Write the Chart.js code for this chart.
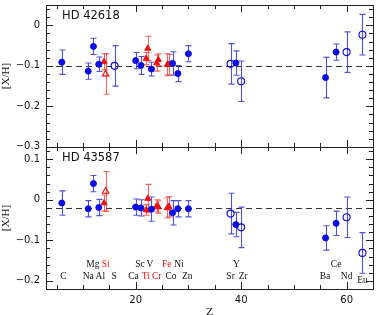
<!DOCTYPE html>
<html><head><meta charset="utf-8">
<script src="https://cdn.jsdelivr.net/npm/chart.js@4.4.0/dist/chart.umd.min.js"></script>
<style>
html,body{margin:0;padding:0;background:#fff;overflow:hidden;width:382px;height:315px}
#c1{position:absolute;left:0;top:0}
#c2{position:absolute;left:0;top:142px}
</style></head><body>
<canvas id="c1" width="382" height="152" style="width:382px;height:152px"></canvas>
<canvas id="c2" width="382" height="180" style="width:382px;height:180px"></canvas>
<script>
// ---------------- DATA ----------------
// HD 42618 (top panel)
const topBlueFilledZ   = [6, 11, 12, 13, 20, 21, 23, 27, 28, 30, 39, 56, 58];
const topBlueFilledVal = [-0.091, -0.113, -0.052, -0.096, -0.087, -0.099, -0.108, -0.094, -0.119, -0.070, -0.093, -0.129, -0.066];
const topBlueFilledErr = [0.030, 0.020, 0.020, 0.018, 0.020, 0.022, 0.017, 0.029, 0.020, 0.020, 0.030, 0.050, 0.020];
const topBlueOpenZ     = [16, 38, 40, 60, 63];
const topBlueOpenVal   = [-0.100, -0.095, -0.138, -0.066, -0.023];
const topBlueOpenErr   = [0.050, 0.050, 0.050, 0.050, 0.050];
const topRedFilledZ    = [14, 22, 22.3, 24, 24.3, 26, 26.3];
const topRedFilledVal  = [-0.090, -0.082, -0.057, -0.093, -0.085, -0.097, -0.097];
const topRedFilledErr  = [0.020, 0.015, 0.030, 0.020, 0.015, 0.027, 0.025];
const topRedOpenZ      = [14.3];
const topRedOpenVal    = [-0.120];
const topRedOpenErr    = [0.050];
const topRef = -0.10;

// HD 43587 (bottom panel)
const botBlueFilledZ   = [6, 11, 12, 13, 20, 21, 23, 27, 28, 30, 39, 56, 58];
const botBlueFilledVal = [-0.008, -0.022, 0.040, -0.019, -0.018, -0.020, -0.023, -0.032, -0.022, -0.022, -0.061, -0.094, -0.058];
const botBlueFilledErr = [0.030, 0.020, 0.020, 0.020, 0.020, 0.020, 0.030, 0.030, 0.020, 0.020, 0.030, 0.030, 0.030];
const botBlueOpenZ     = [38, 40, 60, 63];
const botBlueOpenVal   = [-0.034, -0.068, -0.043, -0.131];
const botBlueOpenErr   = [0.050, 0.050, 0.050, 0.050];
const botRedFilledZ    = [14, 22, 22.3, 24, 24.3, 26, 26.3];
const botRedFilledVal  = [-0.008, -0.025, 0.003, -0.015, -0.018, -0.020, -0.017];
const botRedFilledErr  = [0.020, 0.013, 0.035, 0.015, 0.015, 0.025, 0.025];
const botRedOpenZ      = [14.3];
const botRedOpenVal    = [0.021];
const botRedOpenErr    = [0.049];
const botRef = -0.02;

// element labels (bottom panel)
const elemNames = ['C','Na','Mg','Al','Si','S','Ca','Sc','Ti','V','Cr','Fe','Co','Ni','Zn','Sr','Y','Zr','Ba','Ce','Nd','Eu'];
const elemPos   = [6.3, 11.0, 11.9, 13.3, 14.3, 15.9, 19.6, 20.8, 21.9, 22.7, 24.0, 25.9, 26.7, 28.2, 29.8, 38.0, 39.1, 40.4, 55.9, 58.0, 60.0, 63.0];
const elemRowY  = [-0.188, -0.188, -0.160, -0.188, -0.160, -0.188, -0.188, -0.160, -0.188, -0.160, -0.188, -0.160, -0.188, -0.160, -0.188, -0.188, -0.160, -0.188, -0.188, -0.160, -0.188, -0.200];
const elemRed   = ['Si','Ti','Cr','Fe'];

// axes
const xMin = 3, xMax = 65;
const xTickVals = [20, 40, 60];
const topYMin = -0.3, topYMax = 0.05;
const topYTicks = [-0.3, -0.2, -0.1, 0];
const botYMin = -0.22, botYMax = 0.13;
const botYTicks = [-0.2, -0.1, 0, 0.1];

// ---------------- STYLE ----------------
const BLUE = '#0a0ae6', BLUE_ERR = 'rgba(50,50,215,0.85)';
const RED = '#ee1111', RED_ERR = 'rgba(238,50,50,0.75)';
const AX = '#222';
const fmt = v => { const r = Math.round(v*10)/10; if (r === 0) return '0'; return (r < 0 ? '\u2212' : '') + Math.abs(r).toString(); };

function pts(zs, vs, es){ return zs.map((z,i)=>({x:z, y:vs[i], e:es[i]})); }

const panelPlugin = {
  id: 'panelPlugin',
  beforeDatasetsDraw(chart, args, opts){
    const ctx = chart.ctx, xs = chart.scales.x, ys = chart.scales.y, a = chart.chartArea;
    ctx.save();
    ctx.strokeStyle = '#333'; ctx.lineWidth = 1.1; ctx.setLineDash([6,4]);
    const yr = Math.round(ys.getPixelForValue(opts.ref)) + 0.5;
    ctx.beginPath(); ctx.moveTo(a.left, yr); ctx.lineTo(a.right, yr); ctx.stroke();
    ctx.setLineDash([]);
    chart.data.datasets.forEach(ds => {
      ctx.strokeStyle = ds.errColor; ctx.lineWidth = 1.1;
      ds.data.forEach(p => {
        const x = Math.round(xs.getPixelForValue(p.x)) + 0.5;
        const y1 = ys.getPixelForValue(p.y + p.e), y2 = ys.getPixelForValue(p.y - p.e);
        ctx.beginPath();
        ctx.moveTo(x, y1); ctx.lineTo(x, y2);
        ctx.moveTo(x-3, y1); ctx.lineTo(x+3, y1);
        ctx.moveTo(x-3, y2); ctx.lineTo(x+3, y2);
        ctx.stroke();
      });
    });
    ctx.restore();
  },
  afterDatasetsDraw(chart, args, opts){
    const ctx = chart.ctx, xs = chart.scales.x, ys = chart.scales.y, a = chart.chartArea;
    ctx.save();
    ctx.strokeStyle = AX; ctx.lineWidth = 1;
    ctx.strokeRect(Math.round(a.left)+0.5, Math.round(a.top)+0.5, Math.round(a.right-a.left), Math.round(a.bottom-a.top));
    ctx.beginPath();
    for (let z = 5; z <= xMax; z += 5) {
      const x = Math.round(xs.getPixelForValue(z)) + 0.5;
      const L = (z % 20 === 0) ? 7 : 4;
      ctx.moveTo(x, a.bottom); ctx.lineTo(x, a.bottom - L);
      ctx.moveTo(x, a.top); ctx.lineTo(x, a.top + L);
    }
    for (let k = Math.ceil(ys.min/0.02 - 1e-6); k*0.02 <= ys.max + 1e-9; k++) {
      const v = k*0.02;
      const y = Math.round(ys.getPixelForValue(v)) + 0.5;
      const L = (k % 5 === 0) ? 7 : 4;
      ctx.moveTo(a.left, y); ctx.lineTo(a.left + L, y);
      ctx.moveTo(a.right, y); ctx.lineTo(a.right - L, y);
    }
    ctx.stroke();
    ctx.fillStyle = '#111'; ctx.font = '11.5px "DejaVu Sans"'; ctx.textBaseline = 'middle'; ctx.textAlign = 'left';
    ctx.fillText(opts.name, a.left + 16, a.top + 11);
    if (opts.labels) {
      ctx.font = '10px "DejaVu Sans"'; ctx.textAlign = 'center'; ctx.fillStyle = '#111';
      xTickVals.forEach(v => ctx.fillText(String(v), xs.getPixelForValue(v), a.bottom + 11));
      ctx.font = '9.5px "Liberation Serif"';
      elemNames.forEach((n, i) => {
        ctx.fillStyle = elemRed.includes(n) ? '#ee1111' : '#111';
        ctx.fillText(n, xs.getPixelForValue(elemPos[i]), ys.getPixelForValue(elemRowY[i]));
      });
    }
    ctx.restore();
  }
};

function makePanel(id, d, o){
  return new Chart(document.getElementById(id), {
    type: 'scatter',
    data: { datasets: [
      { data: pts(d.bfZ, d.bfV, d.bfE), pointStyle: 'circle', pointRadius: 3.0, backgroundColor: BLUE, borderColor: BLUE, borderWidth: 1, errColor: BLUE_ERR },
      { data: pts(d.boZ, d.boV, d.boE), pointStyle: 'circle', pointRadius: 3.5, backgroundColor: 'rgba(0,0,0,0)', borderColor: BLUE, borderWidth: 1.1, errColor: BLUE_ERR },
      { data: pts(d.rfZ, d.rfV, d.rfE), pointStyle: 'triangle', pointRadius: 3.5, backgroundColor: RED, borderColor: RED, borderWidth: 1, errColor: RED_ERR },
      { data: pts(d.roZ, d.roV, d.roE), pointStyle: 'triangle', pointRadius: 3.8, backgroundColor: 'rgba(0,0,0,0)', borderColor: RED, borderWidth: 1.1, errColor: RED_ERR }
    ]},
    options: {
      responsive: false, animation: false, devicePixelRatio: 1,
      layout: { padding: { left: 0, right: 9, top: 5, bottom: o.padBottom } },
      plugins: { legend: { display: false }, tooltip: { enabled: false },
                 panelPlugin: { ref: o.ref, name: o.name, labels: o.labels } },
      scales: {
        x: {
          type: 'linear', min: xMin, max: xMax, display: o.showX,
          grid: { display: false, drawTicks: false }, border: { display: false },
          afterBuildTicks: s => { s.ticks = xTickVals.map(v => ({ value: v })); },
          afterFit: s => { s.height = o.showX ? 33 : 0; s.paddingLeft = 0; s.paddingRight = 0; },
          ticks: { display: false },
          title: { display: true, text: 'Z', font: { family: 'DejaVu Serif', size: 10 }, color: '#111', padding: { top: 0, bottom: 4 } }
        },
        y: {
          type: 'linear', min: o.yMin, max: o.yMax,
          grid: { display: false, drawTicks: false }, border: { display: false },
          afterBuildTicks: s => { s.ticks = o.yTicks.map(v => ({ value: v })); },
          afterFit: s => { s.width = 46; s.paddingTop = 0; s.paddingBottom = 0; },
          ticks: { font: { family: 'DejaVu Sans', size: 10 }, color: '#111', padding: 6, autoSkip: false, callback: v => fmt(v) },
          title: { display: true, text: '[X/H]', font: { family: 'Liberation Serif', size: 11 }, color: '#111', padding: { top: 0, bottom: 0 } }
        }
      }
    },
    plugins: [panelPlugin]
  });
}

makePanel('c1', { bfZ: topBlueFilledZ, bfV: topBlueFilledVal, bfE: topBlueFilledErr,
                  boZ: topBlueOpenZ, boV: topBlueOpenVal, boE: topBlueOpenErr,
                  rfZ: topRedFilledZ, rfV: topRedFilledVal, rfE: topRedFilledErr,
                  roZ: topRedOpenZ, roV: topRedOpenVal, roE: topRedOpenErr },
          { ref: topRef, name: 'HD 42618', labels: false, showX: false, padBottom: 5,
            yMin: topYMin, yMax: topYMax, yTicks: topYTicks });
makePanel('c2', { bfZ: botBlueFilledZ, bfV: botBlueFilledVal, bfE: botBlueFilledErr,
                  boZ: botBlueOpenZ, boV: botBlueOpenVal, boE: botBlueOpenErr,
                  rfZ: botRedFilledZ, rfV: botRedFilledVal, rfE: botRedFilledErr,
                  roZ: botRedOpenZ, roV: botRedOpenVal, roE: botRedOpenErr },
          { ref: botRef, name: 'HD 43587', labels: true, showX: true, padBottom: 0,
            yMin: botYMin, yMax: botYMax, yTicks: botYTicks });
</script>
</body></html>
